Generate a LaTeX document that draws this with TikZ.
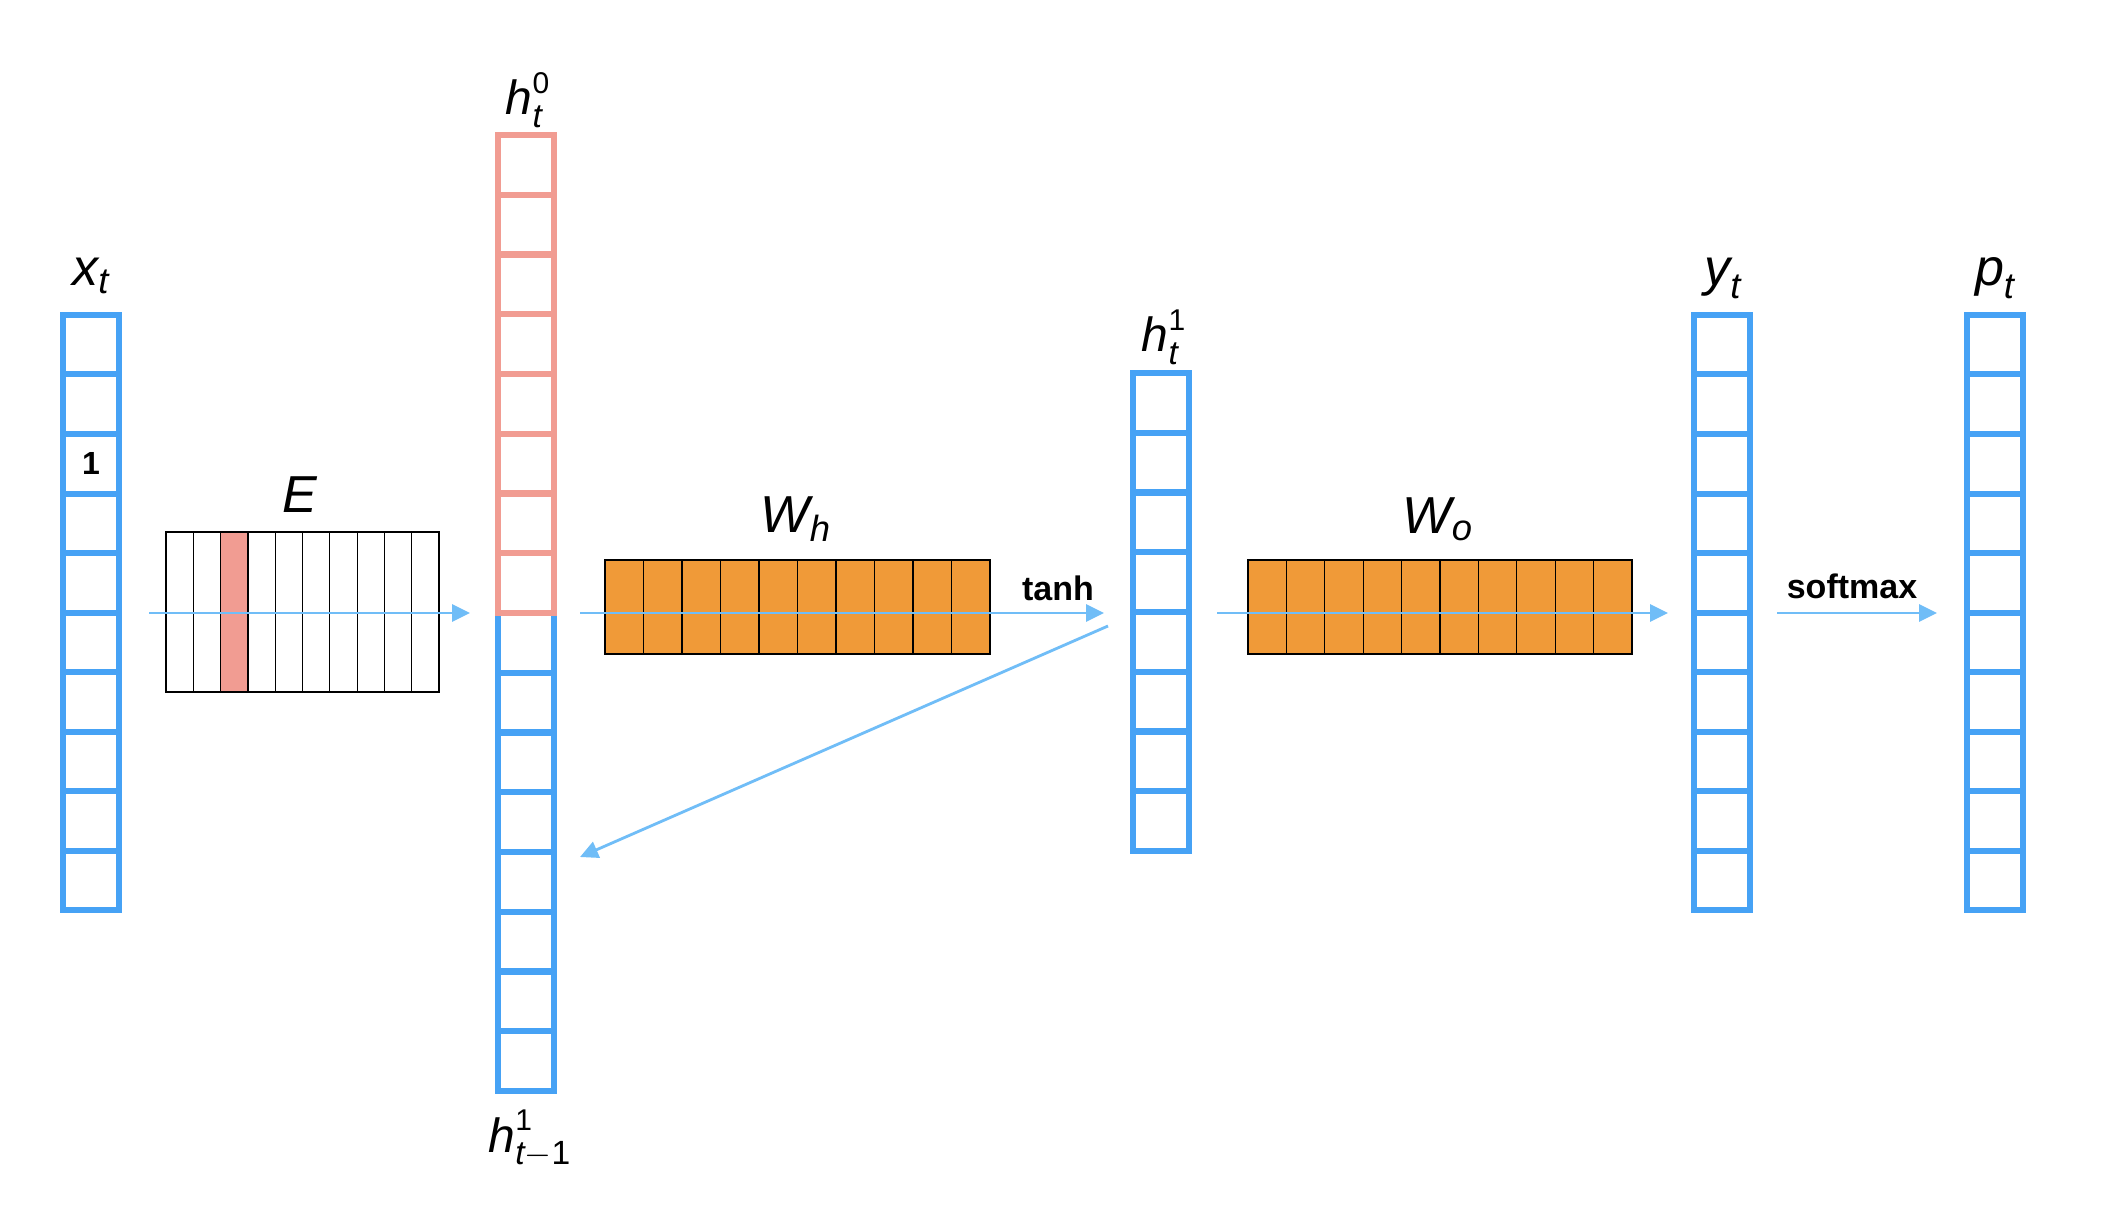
\documentclass[tikz,border=0pt]{standalone}
\usepackage{fontspec}
\setmainfont{Liberation Sans}
\usepackage{amsmath}
\usetikzlibrary{arrows.meta}
\definecolor{cblue}{RGB}{70,162,245}
\definecolor{cpink}{RGB}{241,156,146}
\definecolor{corange}{RGB}{240,154,56}
\definecolor{carrow}{RGB}{112,189,247}
\newcommand\mi[1]{\text{\normalfont\itshape #1}}
\newcommand\mr[1]{\text{\normalfont #1}}
\newcommand\smr[1]{\text{\normalfont\fontsize{15}{17}\selectfont #1}}
\begin{document}
\begin{tikzpicture}[x=0.5pt,y=-0.5pt,
  vcell/.style={draw=cblue,line width=3pt,minimum width=28pt,minimum height=29.75pt,inner sep=0pt,outer sep=0pt,fill=white},
  pcell/.style={vcell,draw=cpink},
  ecell/.style={draw=black,line width=0.6pt,minimum width=13.65pt,minimum height=80pt,inner sep=0pt,outer sep=0pt},
  wcell/.style={draw=black,line width=0.6pt,fill=corange,minimum width=19.25pt,inner sep=0pt,outer sep=0pt},
  lbl/.style={anchor=base,inner sep=0pt,font=\fontsize{26}{30}\selectfont},
  hlbl/.style={anchor=base,inner sep=0pt,font=\fontsize{24}{28}\selectfont},
  op/.style={anchor=base,inner sep=0pt,font=\fontsize{17}{20}\selectfont\bfseries},
  flow/.style={draw=carrow,line width=1.4pt,-{Triangle[length=9pt,width=8.5pt]}}
]
\fill[white] (0,0) rectangle (2106,1230);
\useasboundingbox (0,0) rectangle (2106,1230);

% x_t column
\foreach \i in {0,...,9} \node[vcell] (x\i) at (91,{315+59.5*(\i+0.5)}) {};
\node[font=\fontsize{16}{18}\selectfont\bfseries,inner sep=0pt] (one) at (x2) {1};
\node[lbl] (lx) at (91,286) {$\mi{x}_{\mi{t}}$};

% E matrix
\foreach \i/\c in {0/white,1/white,2/cpink,3/white,4/white,5/white,6/white,7/white,8/white,9/white}
  \node[ecell,fill=\c] (E\i) at ({166+27.3*(\i+0.5)},612) {};
\node[lbl] (lE) at (300,512) {$\mi{E}$};

% h column (h_t^0 over h_{t-1}^1)
\foreach \i in {8,...,15} \node[vcell] (h\i) at (526,{135+59.75*(\i+0.5)}) {};
\foreach \i in {0,...,7} \node[pcell] (h\i) at (526,{135+59.75*(\i+0.5)}) {};
\node[hlbl] (lh0) at (528,115) {$\mi{h}^{\smr{0}}_{\mi{t}}$};
\node[hlbl] (lhp) at (530,1152) {$\mi{h}^{\smr{1}}_{\mi{t}-\mr{1}}$};

% W_h matrix
\foreach \i in {0,...,9} {
  \node[wcell,minimum height=26.5pt] (Wht\i) at ({605+38.5*(\i+0.5)},586.5) {};
  \node[wcell,minimum height=20.5pt] (Whb\i) at ({605+38.5*(\i+0.5)},633.5) {};
}
\node[lbl] (lWh) at (796,532) {$\mi{W}_{\mi{h}}$};
\node[op] (tanh) at (1058,600) {tanh};

% h_t^1 column
\foreach \i in {0,...,7} \node[vcell] (g\i) at (1161,{373+59.75*(\i+0.5)}) {};
\node[hlbl] (lh1) at (1164,352) {$\mi{h}^{\smr{1}}_{\mi{t}}$};

% W_o matrix
\foreach \i in {0,...,9} {
  \node[wcell,minimum height=26.5pt] (Wot\i) at ({1248+38.4*(\i+0.5)},586.5) {};
  \node[wcell,minimum height=20.5pt] (Wob\i) at ({1248+38.4*(\i+0.5)},633.5) {};
}
\node[lbl] (lWo) at (1438,533) {$\mi{W}_{\mi{o}}$};

% y_t column
\foreach \i in {0,...,9} \node[vcell] (y\i) at (1722,{315+59.5*(\i+0.5)}) {};
\node[lbl] (ly) at (1723,286) {$\mi{y}_{\mi{t}}$};
\node[op] (softmax) at (1852,598) {softmax};

% p_t column
\foreach \i in {0,...,9} \node[vcell] (p\i) at (1995,{315+59.5*(\i+0.5)}) {};
\node[lbl] (lp) at (1995,286) {$\mi{p}_{\mi{t}}$};

% connectors
\coordinate (a1s) at (149,613); \coordinate (a1e) at (470,613);
\coordinate (a2s) at (580,613); \coordinate (a2e) at (1104,613);
\coordinate (a3s) at (1217,613); \coordinate (a3e) at (1668,613);
\coordinate (a4s) at (1777,613); \coordinate (a4e) at (1937,613);
\coordinate (a5s) at (1108,626); \coordinate (a5e) at (580,857);
\draw[flow] (a1s) -- (a1e);
\draw[flow] (a2s) -- (a2e);
\draw[flow] (a3s) -- (a3e);
\draw[flow] (a4s) -- (a4e);
\draw[flow] (a5s) -- (a5e);
\end{tikzpicture}
\end{document}
